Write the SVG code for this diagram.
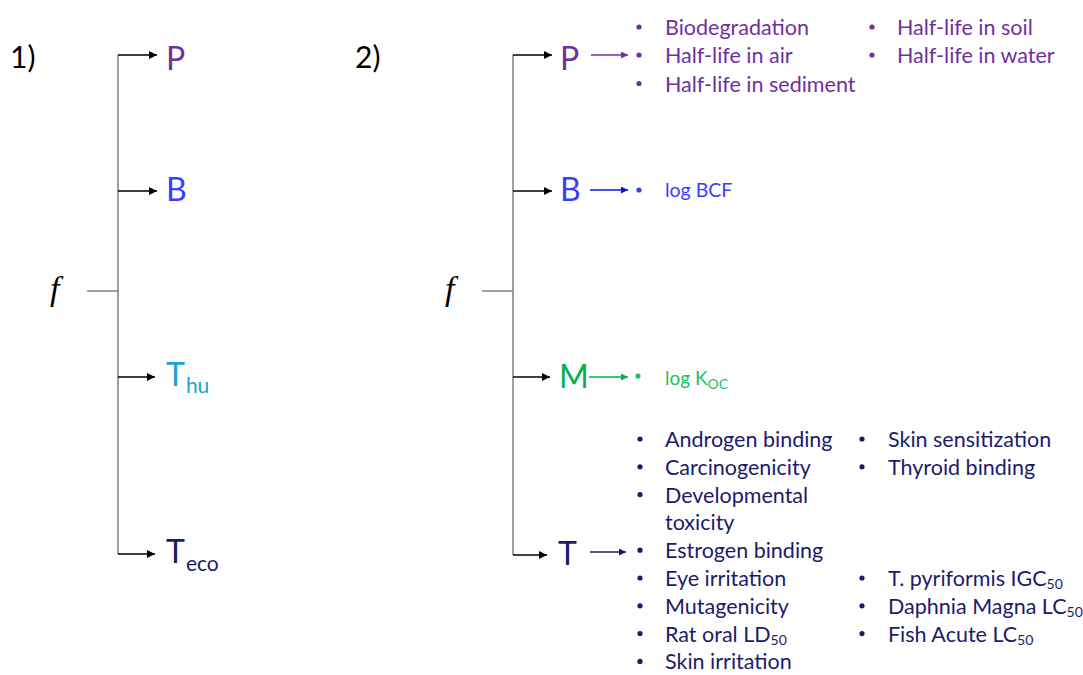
<svg xmlns="http://www.w3.org/2000/svg" width="1083" height="675" viewBox="0 0 1083 675">
  <defs>
    <marker id="ahk" viewBox="0 0 10 10" refX="10" refY="5" markerWidth="10" markerHeight="8" markerUnits="userSpaceOnUse" orient="auto">
      <path d="M0,0 L10,5 L0,10 z" fill="#000"/>
    </marker>
    <marker id="ahp" viewBox="0 0 10 10" refX="10" refY="5" markerWidth="9" markerHeight="7" markerUnits="userSpaceOnUse" orient="auto">
      <path d="M0,0 L10,5 L0,10 z" fill="#7030a0"/>
    </marker>
    <marker id="ahb" viewBox="0 0 10 10" refX="10" refY="5" markerWidth="9" markerHeight="7" markerUnits="userSpaceOnUse" orient="auto">
      <path d="M0,0 L10,5 L0,10 z" fill="#1010e0"/>
    </marker>
    <marker id="ahg" viewBox="0 0 10 10" refX="10" refY="5" markerWidth="9" markerHeight="7" markerUnits="userSpaceOnUse" orient="auto">
      <path d="M0,0 L10,5 L0,10 z" fill="#00b050"/>
    </marker>
    <marker id="ahn" viewBox="0 0 10 10" refX="10" refY="5" markerWidth="9" markerHeight="7" markerUnits="userSpaceOnUse" orient="auto">
      <path d="M0,0 L10,5 L0,10 z" fill="#1b1b6b"/>
    </marker>
  </defs>
  <style>
    text { font-family: Lato, "Open Sans", "Liberation Sans", sans-serif; }
    .num { font-size: 30px; fill: #000; }
    .fn { font-family: "Liberation Serif", "DejaVu Serif", serif; font-style: italic; font-size: 34px; fill: #000; }
    .big { font-size: 32px; }
    .sub { font-size: 21px; }
    .item { font-size: 21.5px; }
    .s50 { font-size: 14px; }
    .trunk { stroke: #808080; stroke-width: 1.5; fill: none; }
    .branch { stroke: #000; stroke-width: 1.3; fill: none; marker-end: url(#ahk); }
    .purple { fill: #7030a0; }
    .blue { fill: #3c3cff; }
    .cyan { fill: #1e9fd2; }
    .navy { fill: #1b1b6b; }
    .green { fill: #00b050; }
    .lgreen { fill: #22c060; }
  </style>

  <!-- panel labels -->
  <text class="num" x="10" y="68">1)</text>
  <text class="num" x="355" y="68">2)</text>

  <!-- connectors -->
  <g id="connectors">
    <!-- tree 1 -->
    <line class="trunk" x1="118" y1="55" x2="118" y2="554"/>
    <line class="trunk" x1="87" y1="291" x2="118" y2="291"/>
    <line class="branch" x1="118" y1="55" x2="157" y2="55"/>
    <line class="branch" x1="118" y1="191" x2="157" y2="191"/>
    <line class="branch" x1="118" y1="377" x2="155" y2="377"/>
    <line class="branch" x1="118" y1="554" x2="155" y2="554"/>
    <!-- tree 2 -->
    <line class="trunk" x1="513" y1="55" x2="513" y2="555"/>
    <line class="trunk" x1="482" y1="291" x2="513" y2="291"/>
    <line class="branch" x1="513" y1="55" x2="552" y2="55"/>
    <line class="branch" x1="513" y1="191" x2="552" y2="191"/>
    <line class="branch" x1="513" y1="377" x2="550" y2="377"/>
    <line class="branch" x1="513" y1="555" x2="547" y2="555"/>
    <!-- property arrows -->
    <line x1="591" y1="55" x2="628" y2="55" stroke="#7030a0" stroke-width="1.3" marker-end="url(#ahp)"/>
    <line x1="590" y1="190" x2="628" y2="190" stroke="#1010e0" stroke-width="1.3" marker-end="url(#ahb)"/>
    <line x1="589" y1="377" x2="628" y2="377" stroke="#00b050" stroke-width="1.3" marker-end="url(#ahg)"/>
    <line x1="590" y1="552" x2="626" y2="552" stroke="#1b1b6b" stroke-width="1.3" marker-end="url(#ahn)"/>
  </g>

  <!-- tree 1 nodes -->
  <g id="f1"><text class="fn" x="50" y="300">f</text></g>
  <g id="p1"><text class="big purple" x="166" y="70">P</text></g>
  <g id="b1"><text class="big blue" x="166" y="201">B</text></g>
  <g id="thu1"><text class="big cyan" x="166" y="386">T<tspan class="sub" dx="1" dy="7">hu</tspan></text></g>
  <g id="teco1"><text class="big navy" x="166" y="563">T<tspan class="sub" dx="1" dy="8">eco</tspan></text></g>

  <!-- tree 2 nodes -->
  <g id="f2"><text class="fn" x="445" y="300">f</text></g>
  <g id="p2"><text class="big purple" x="560" y="70">P</text></g>
  <g id="b2"><text class="big blue" x="560" y="201">B</text></g>
  <g id="m2"><text class="big green" x="559" y="388">M</text></g>
  <g id="t2"><text class="big navy" x="558" y="565">T</text></g>

  <!-- persistence endpoints -->
  <g id="p-list" class="purple">
    <circle cx="639" cy="27" r="2.6"/>
    <circle cx="639" cy="55" r="2.6"/>
    <circle cx="639" cy="83.5" r="2.6"/>
    <circle cx="872" cy="27" r="2.6"/>
    <circle cx="872" cy="55" r="2.6"/>
    <text class="item" x="665" y="35">Biodegradation</text>
    <text class="item" x="665" y="63">Half-life in air</text>
    <text class="item" x="665" y="91.5">Half-life in sediment</text>
    <text class="item" x="897" y="35">Half-life in soil</text>
    <text class="item" x="897" y="63">Half-life in water</text>
  </g>

  <!-- bioaccumulation endpoint -->
  <g id="b-list" class="blue">
    <circle cx="639" cy="190" r="2.6"/>
    <text class="item" x="665" y="197" style="font-size:19.5px">log BCF</text>
  </g>

  <!-- mobility endpoint -->
  <g id="m-list" class="lgreen">
    <circle cx="638" cy="376" r="2.6"/>
    <text class="item" x="665" y="385" style="font-size:19px">log K<tspan class="s50" dy="4">OC</tspan></text>
  </g>

  <!-- toxicity endpoints -->
  <g id="t-list" class="navy">
    <circle cx="640" cy="439" r="2.6"/>
    <circle cx="640" cy="466.8" r="2.6"/>
    <circle cx="640" cy="494.6" r="2.6"/>
    <circle cx="640" cy="550.2" r="2.6"/>
    <circle cx="640" cy="578" r="2.6"/>
    <circle cx="640" cy="605.8" r="2.6"/>
    <circle cx="640" cy="633.6" r="2.6"/>
    <circle cx="640" cy="661.4" r="2.6"/>
    <text class="item" x="665" y="447">Androgen binding</text>
    <text class="item" x="665" y="474.8">Carcinogenicity</text>
    <text class="item" x="665" y="502.6">Developmental</text>
    <text class="item" x="665" y="530.4">toxicity</text>
    <text class="item" x="665" y="558.2">Estrogen binding</text>
    <text class="item" x="665" y="586">Eye irritation</text>
    <text class="item" x="665" y="613.8">Mutagenicity</text>
    <text class="item" x="665" y="641.6">Rat oral LD<tspan class="s50" dy="3">50</tspan></text>
    <text class="item" x="665" y="669.4">Skin irritation</text>

    <circle cx="862" cy="439" r="2.6"/>
    <circle cx="862" cy="466.8" r="2.6"/>
    <circle cx="862" cy="578" r="2.6"/>
    <circle cx="862" cy="605.8" r="2.6"/>
    <circle cx="862" cy="633.6" r="2.6"/>
    <text class="item" x="888" y="447">Skin sensitization</text>
    <text class="item" x="888" y="474.8">Thyroid binding</text>
    <text class="item" x="888" y="586">T. pyriformis IGC<tspan class="s50" dy="3">50</tspan></text>
    <text class="item" x="888" y="613.8">Daphnia Magna LC<tspan class="s50" dy="3">50</tspan></text>
    <text class="item" x="888" y="641.6">Fish Acute LC<tspan class="s50" dy="3">50</tspan></text>
  </g>
</svg>
